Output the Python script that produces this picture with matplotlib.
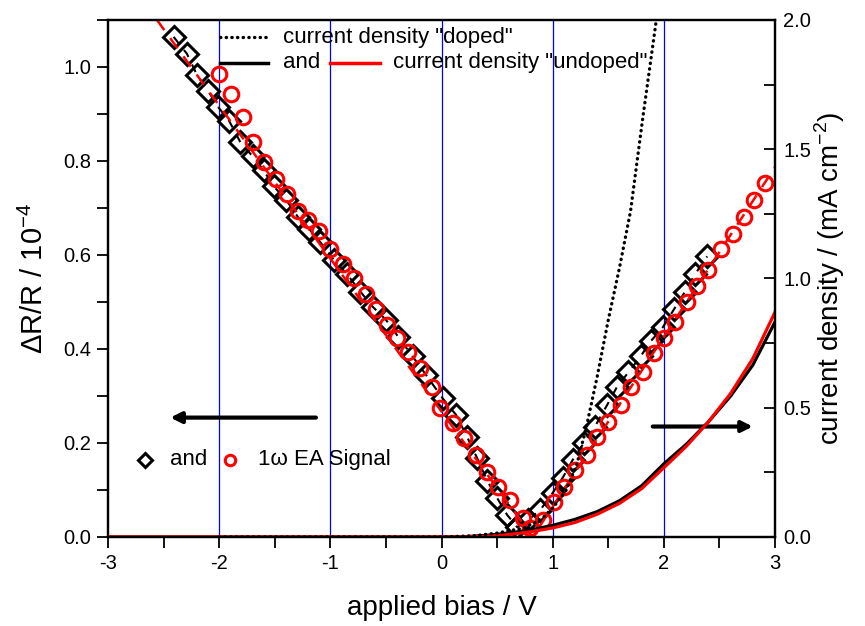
import numpy as np
import matplotlib
matplotlib.use("Agg")
import matplotlib.pyplot as plt
from matplotlib.ticker import MultipleLocator

plt.rcParams['font.family'] = ['Liberation Sans', 'DejaVu Sans']
plt.rcParams['mathtext.fontset'] = 'custom'
plt.rcParams['mathtext.rm'] = 'Liberation Sans'

# ===== EA signal (left axis, dR/R / 1e-4) =====
dia_x = [-2.41, -2.29, -2.20, -2.10, -2.01, -1.91, -1.81, -1.70, -1.60, -1.51,
         -1.40, -1.29, -1.19, -1.09, -0.97, -0.85, -0.73, -0.62, -0.50, -0.39,
         -0.26, -0.14, 0.01, 0.13, 0.23, 0.32, 0.41, 0.50, 0.59, 0.68,
         0.78, 0.89, 1.00, 1.09, 1.18, 1.28, 1.38, 1.49, 1.58, 1.68,
         1.79, 1.88, 1.99, 2.09, 2.19, 2.28, 2.39]
dia_y = [1.064, 1.028, 0.983, 0.949, 0.915, 0.885, 0.840, 0.810, 0.780, 0.746,
         0.718, 0.680, 0.655, 0.627, 0.590, 0.559, 0.522, 0.490, 0.462, 0.426,
         0.384, 0.345, 0.295, 0.260, 0.213, 0.168, 0.120, 0.083, 0.047, 0.021,
         0.036, 0.058, 0.094, 0.126, 0.164, 0.200, 0.235, 0.281, 0.320, 0.350,
         0.384, 0.416, 0.446, 0.484, 0.522, 0.559, 0.597]

circ_x = [-2.00, -1.89, -1.79, -1.70, -1.60, -1.49, -1.39, -1.29, -1.20, -1.10,
          -1.00, -0.89, -0.79, -0.68, -0.59, -0.49, -0.40, -0.30, -0.19, -0.09,
          -0.01, 0.10, 0.20, 0.31, 0.41, 0.51, 0.62, 0.73, 0.80, 0.91,
          1.01, 1.10, 1.20, 1.31, 1.40, 1.50, 1.61, 1.70, 1.81, 1.91,
          2.00, 2.10, 2.21, 2.30, 2.40, 2.51, 2.62, 2.72, 2.81, 2.91]
circ_y = [0.985, 0.942, 0.893, 0.840, 0.797, 0.761, 0.729, 0.693, 0.675, 0.650,
          0.612, 0.580, 0.552, 0.516, 0.484, 0.452, 0.424, 0.394, 0.360, 0.320,
          0.275, 0.243, 0.211, 0.175, 0.139, 0.107, 0.079, 0.040, 0.019, 0.036,
          0.075, 0.107, 0.143, 0.175, 0.213, 0.245, 0.281, 0.320, 0.352, 0.392,
          0.424, 0.458, 0.501, 0.533, 0.569, 0.612, 0.644, 0.680, 0.718, 0.753]

# linear fit of the red series (V shape)
fit_red_x = [-2.56, 0.82, 3.00]
fit_red_y = [1.100, 0.000, 0.787]

# ===== current density (right axis, mA cm^-2) =====
j_x = [-3.0, -2.0, 0.0, 0.2, 0.4, 0.6, 0.8, 1.0, 1.2, 1.4, 1.6, 1.8,
       2.0, 2.2, 2.4, 2.6, 2.8, 3.0]
j_undoped_red = [0.0, 0.0, 0.0, 0.0005, 0.003, 0.009, 0.020, 0.035, 0.056, 0.088,
                 0.130, 0.187, 0.268, 0.350, 0.445, 0.555, 0.690, 0.870]
j_undoped_blk = [0.0, 0.0, 0.0, 0.001, 0.006, 0.015, 0.027, 0.045, 0.068, 0.098,
                 0.140, 0.198, 0.283, 0.358, 0.445, 0.545, 0.665, 0.832]
jd_x = [-2.0, 0.0, 0.3, 0.5, 0.74, 0.89, 1.0, 1.12, 1.22, 1.30, 1.40, 1.50,
        1.60, 1.70, 1.81, 1.90, 1.97]
j_doped = [0.0, 0.0, 0.005, 0.015, 0.035, 0.066, 0.112, 0.180, 0.286, 0.420,
           0.620, 0.840, 1.040, 1.260, 1.620, 1.900, 2.120]

BLUE = '#0000ff'
RED = '#ff0000'

fig = plt.figure(figsize=(8.65, 6.26), dpi=100)
ax = fig.add_axes([0.1249, 0.1422, 0.7711, 0.8259])
ax2 = ax.twinx()

for xv in [-2, -1, 0, 1, 2]:
    ax.axvline(xv, color=BLUE, lw=0.9, zorder=0)

ax.plot(dia_x, dia_y, color='k', lw=1.5, ls=(0, (4, 4)), zorder=2)
ax.plot(dia_x, dia_y, ls='none', marker='D', ms=11, mfc='none', mec='k', mew=2.2, zorder=3)
ax.plot(circ_x, circ_y, ls='none', marker='o', ms=10.5, mfc='none', mec=RED, mew=2.2, zorder=4)
ax.plot(fit_red_x, fit_red_y, color=RED, lw=1.8, ls=(0, (5, 4)), zorder=5)

# smooth the tabulated current curves for drawing
def smooth(xs, ys):
    xf = np.linspace(xs[0], xs[-1], 400)
    return xf, np.interp(xf, xs, ys)

ax2.plot(j_x, j_undoped_blk, color='k', lw=2.3)
ax2.plot(j_x, j_undoped_red, color=RED, lw=2.3)
ax2.plot(jd_x, j_doped, color='k', lw=2.4, ls=(0, (0.1, 1.6)), dash_capstyle='round')

# arrows
ax.annotate('', xy=(-2.44, 0.254), xytext=(-1.13, 0.254),
            arrowprops=dict(arrowstyle='-|>', lw=3, color='k', mutation_scale=16,
                            shrinkA=0, shrinkB=0))
ax.annotate('', xy=(2.80, 0.235), xytext=(1.90, 0.235),
            arrowprops=dict(arrowstyle='-|>', lw=3, color='k', mutation_scale=16,
                            shrinkA=0, shrinkB=0))

ax.set_xlim(-3, 3)
ax.set_ylim(0, 1.1)
ax2.set_ylim(0, 2.0)

ax.xaxis.set_major_locator(MultipleLocator(1))
ax.xaxis.set_minor_locator(MultipleLocator(0.5))
ax.yaxis.set_major_locator(MultipleLocator(0.2))
ax.yaxis.set_minor_locator(MultipleLocator(0.1))
ax2.yaxis.set_major_locator(MultipleLocator(0.5))
ax2.yaxis.set_minor_locator(MultipleLocator(0.25))
ax.xaxis.set_major_formatter(plt.FuncFormatter(lambda v, p: f"{v:.0f}"))
ax.yaxis.set_major_formatter(plt.FuncFormatter(lambda v, p: f"{v:.1f}"))
ax2.yaxis.set_major_formatter(plt.FuncFormatter(lambda v, p: f"{v:.1f}"))

ax.tick_params(axis='x', which='both', direction='out', length=8, width=1.3,
               labelsize=14.5, pad=4, top=False)
ax.tick_params(axis='y', which='both', direction='out', length=8, width=1.3,
               labelsize=14.5, pad=4)
ax2.tick_params(axis='y', which='both', direction='in', length=8, width=1.3,
                labelsize=14.5, pad=6)
for a in (ax, ax2):
    for s in a.spines.values():
        s.set_linewidth(1.6)

ax.set_xlabel("applied bias / V", fontsize=20, labelpad=16)
ax.set_ylabel(r"ΔR/R / 10$^{\mathregular{-4}}$", fontsize=21, labelpad=10)
ax2.set_ylabel(r"current density / (mA cm$^{\mathregular{-2}}$)", fontsize=20, labelpad=1)

# legend (top)
T = ax.transAxes
kw = dict(transform=T, clip_on=False)
ax.plot([0.168, 0.240], [0.967, 0.967], color='k', lw=2.4, ls=(0, (0.1, 1.6)),
        dash_capstyle='round', **kw)
ax.text(0.262, 0.967, 'current density "doped"', fontsize=16, va='center', transform=T)
ax.plot([0.168, 0.240], [0.917, 0.917], color='k', lw=2.5, **kw)
ax.text(0.262, 0.917, 'and', fontsize=16, va='center', transform=T)
ax.plot([0.333, 0.408], [0.917, 0.917], color=RED, lw=2.5, **kw)
ax.text(0.427, 0.917, 'current density "undoped"', fontsize=16, va='center', transform=T)

# legend (bottom)
ax.plot([0.055], [0.149], marker='D', ms=7.5, mfc='none', mec='k', mew=2.2, **kw)
ax.text(0.093, 0.149, 'and', fontsize=16, va='center', transform=T)
ax.plot([0.183], [0.149], marker='o', ms=7.5, mfc='none', mec=RED, mew=2.2, **kw)
ax.text(0.225, 0.149, '1ω EA Signal', fontsize=16, va='center', transform=T)

fig.savefig("out.png", dpi=100)
